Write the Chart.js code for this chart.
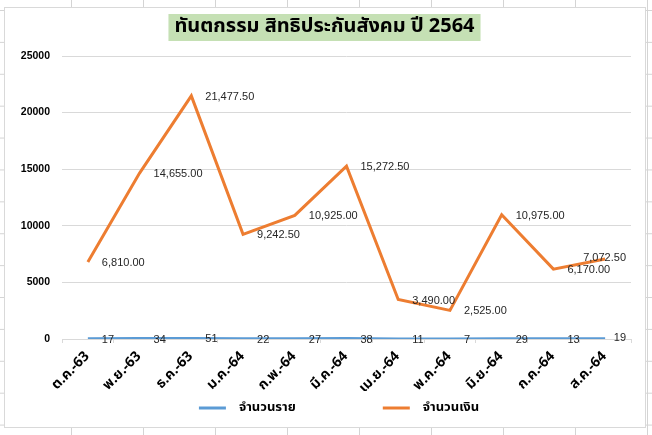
<!DOCTYPE html>
<html>
<head>
<meta charset="utf-8">
<script src="https://cdn.jsdelivr.net/npm/chart.js@4.4.1/dist/chart.umd.min.js"></script>
<style>
  body {
    margin: 0;
    width: 652px;
    height: 435px;
    overflow: hidden;
    background-color: #fff;
    background-image:
      linear-gradient(to right, #d4d4d4 1px, transparent 1px),
      linear-gradient(to bottom, #d4d4d4 1px, transparent 1px);
    background-size: 72px 31.9px;
    background-position: 71px 10px;
  }
  #grafico {
    position: absolute;
    left: 4px;
    top: 7px;
    width: 640px;
    height: 419px;
    background: #fff;
    border: 1px solid #d9d9d9;
  }
  canvas { display: block; }
</style>
</head>
<body>
<div id="grafico">
  <canvas id="myChart" width="640" height="419"></canvas>
</div>
<script>
const meses = ['ต.ค.-63', 'พ.ย.-63', 'ธ.ค.-63', 'ม.ค.-64', 'ก.พ.-64', 'มี.ค.-64',
  'เม.ย.-64', 'พ.ค.-64', 'มิ.ย.-64', 'ก.ค.-64', 'ส.ค.-64'];
const jumlahRaya = [17, 34, 51, 22, 27, 38, 11, 7, 29, 13, 19];
const jumlahNgoen = [6810, 14655, 21477.5, 9242.5, 10925, 15272.5, 3490, 2525, 10975, 6170, 7072.5];
const ticksY = [0, 5000, 10000, 15000, 20000, 25000];

const fuenteThai = "Tahoma, 'Noto Sans Thai', 'Leelawadee UI', 'Noto Sans', 'DejaVu Sans', sans-serif";
const fuenteNum = "'Liberation Sans', Arial, sans-serif";

// green box behind the title
const fondoTitulo = {
  id: 'fondoTitulo',
  afterLayout(chart) {
    // Excel centres the title a bit to the right
    chart.titleBlock.left += 13;
  },
  beforeDraw(chart) {
    const t = chart.titleBlock;
    if (!t) return;
    const ctx = chart.ctx;
    const o = t.options;
    ctx.save();
    ctx.font = `bold ${o.font.size}px ${o.font.family}`;
    const w = ctx.measureText(o.text).width;
    const cx = (t.left + t.right) / 2;
    ctx.fillStyle = '#c5e0b4';
    ctx.fillRect(cx - w / 2 - 6, 6, w + 12, 27);
    ctx.restore();
  }
};

// value labels to the right of each point
const etiquetas = {
  id: 'etiquetas',
  afterDatasetsDraw(chart) {
    const ctx = chart.ctx;
    const area = chart.chartArea;
    ctx.save();
    ctx.font = `11px ${fuenteNum}`;
    ctx.fillStyle = '#262626';
    ctx.textAlign = 'left';
    ctx.textBaseline = 'middle';
    chart.data.datasets.forEach((ds, i) => {
      const meta = chart.getDatasetMeta(i);
      meta.data.forEach((p, j) => {
        const v = ds.data[j];
        const txt = i === 1
          ? v.toLocaleString('en-US', { minimumFractionDigits: 2, maximumFractionDigits: 2 })
          : String(v);
        const w = ctx.measureText(txt).width;
        let x = p.x + 14;
        let y = p.y + 1;
        if (x + w > area.right - 6) {
          x = area.right - 5 - w;
          y = p.y - 1;
        }
        ctx.fillText(txt, x, y);
      });
    });
    ctx.restore();
  }
};

// legend at the bottom, Excel style
const leyenda = {
  id: 'leyenda',
  afterDraw(chart) {
    const ctx = chart.ctx;
    const sets = chart.data.datasets;
    const linea = 27, hueco = 13, entre = 87;
    ctx.save();
    ctx.font = `bold 13px ${fuenteThai}`;
    const anchos = sets.map(ds => ctx.measureText(ds.label).width);
    const total = anchos.reduce((a, w) => a + linea + hueco + w, 0) + entre * (sets.length - 1);
    let x = chart.width / 2 + 14 - total / 2;
    const y = 400;
    ctx.textBaseline = 'middle';
    ctx.textAlign = 'left';
    sets.forEach((ds, i) => {
      ctx.strokeStyle = ds.borderColor;
      ctx.lineWidth = 3;
      ctx.beginPath();
      ctx.moveTo(x, y);
      ctx.lineTo(x + linea, y);
      ctx.stroke();
      ctx.fillStyle = '#000';
      ctx.fillText(ds.label, x + linea + hueco, y);
      x += linea + hueco + anchos[i] + entre;
    });
    ctx.restore();
  }
};

new Chart(document.getElementById('myChart'), {
  type: 'line',
  data: {
    labels: meses,
    datasets: [{
      label: 'จำนวนราย',
      data: jumlahRaya,
      borderColor: '#5b9bd5',
      backgroundColor: '#5b9bd5',
      borderWidth: 3,
      pointRadius: 0,
      tension: 0
    }, {
      label: 'จำนวนเงิน',
      data: jumlahNgoen,
      borderColor: '#ed7d31',
      backgroundColor: '#ed7d31',
      borderWidth: 3,
      pointRadius: 0,
      tension: 0
    }]
  },
  options: {
    responsive: false,
    devicePixelRatio: 1,
    animation: false,
    layout: { padding: { left: 0, right: 14, top: 0, bottom: 36 } },
    plugins: {
      title: {
        display: true,
        text: 'ทันตกรรม สิทธิประกันสังคม ปี 2564',
        color: '#000',
        font: { family: fuenteThai, size: 20, weight: 'bold' },
        padding: { top: 8, bottom: 16 }
      },
      legend: { display: false },
      tooltip: { enabled: false }
    },
    scales: {
      x: {
        offset: true,
        grid: { drawOnChartArea: false, offset: true, tickLength: 4, color: '#d9d9d9' },
        border: { color: '#d9d9d9' },
        ticks: {
          minRotation: 45,
          maxRotation: 45,
          padding: 6,
          color: '#000',
          font: { family: fuenteThai, size: 14, weight: 'bold' }
        },
        afterFit(scale) { scale.height = 52; }
      },
      y: {
        min: 0,
        max: 25000,
        afterBuildTicks(scale) { scale.ticks = ticksY.map(v => ({ value: v })); },
        grid: { color: '#d9d9d9', drawTicks: false },
        border: { display: false },
        ticks: {
          padding: 12,
          color: '#000',
          font: { family: fuenteNum, size: 10.5, weight: 'bold' },
          callback: v => String(v)
        },
        afterFit(scale) { scale.width = 57; }
      }
    }
  },
  plugins: [fondoTitulo, etiquetas, leyenda]
});
</script>
</body>
</html>
